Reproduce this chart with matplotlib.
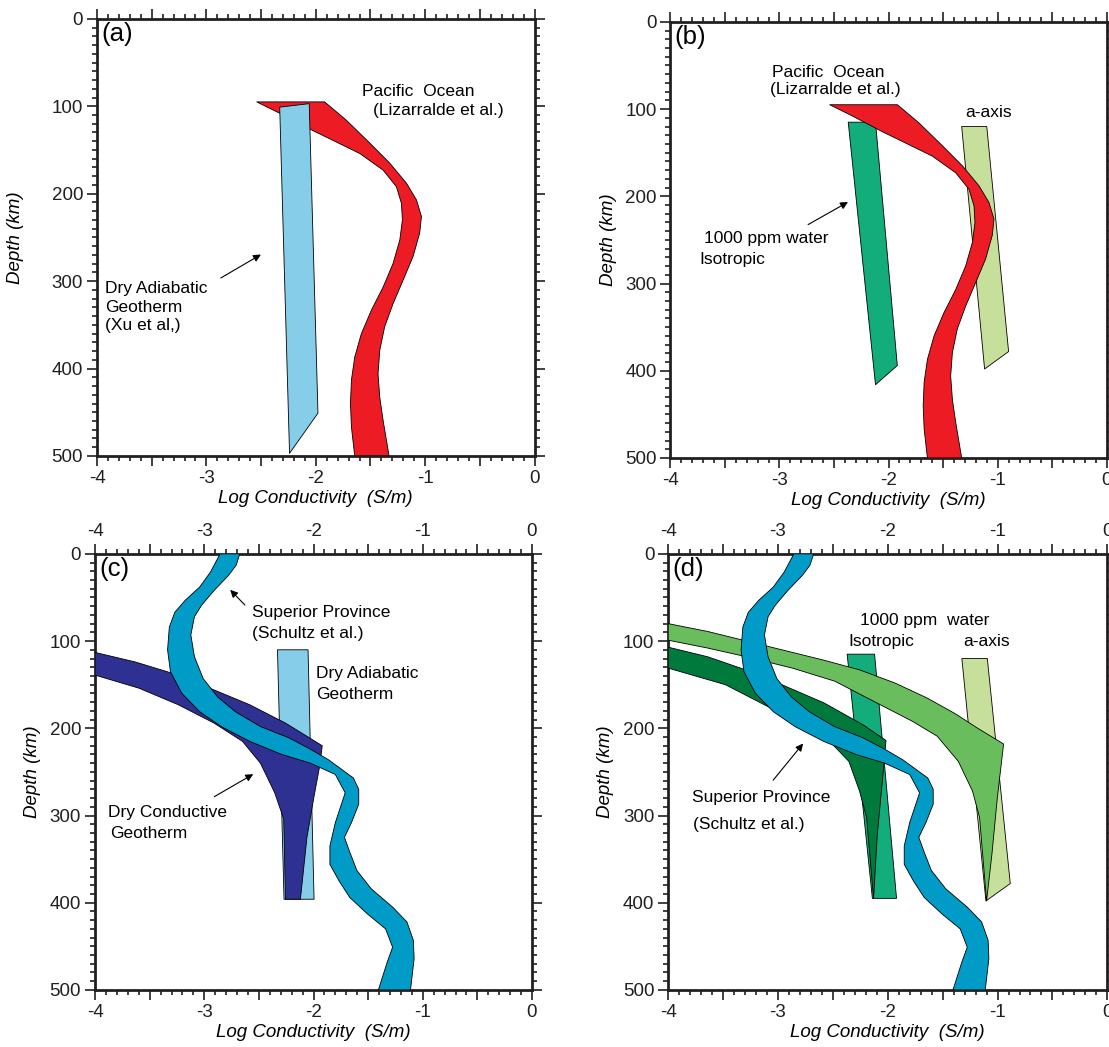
import matplotlib.pyplot as plt
import numpy as np
from matplotlib.ticker import MultipleLocator, FuncFormatter

plt.rcParams['font.family'] = ['Liberation Sans', 'DejaVu Sans']

# Pacific Ocean band (Lizarralde et al.) - edges, log conductivity vs depth
pac_left_x = [-2.54, -2.33, -2.056, -1.843, -1.598, -1.385, -1.263, -1.217, -1.208, -1.232, -1.294, -1.385,
              -1.491, -1.583, -1.644, -1.674, -1.683, -1.674, -1.644]
pac_left_y = [95, 108, 126, 139, 154, 173, 192, 211, 230, 253, 280, 307,
              333, 360, 387, 413, 440, 467, 500]
pac_right_x = [-1.919, -1.72, -1.507, -1.324, -1.171, -1.08, -1.034, -1.05, -1.111, -1.202, -1.294, -1.37,
               -1.415, -1.431, -1.415, -1.385, -1.33]
pac_right_y = [95, 116, 142, 165, 188, 207, 226, 245, 272, 299, 326, 352,
               379, 406, 433, 459, 500]

# Dry adiabatic geotherm (Xu et al.)
adia_a_x = [-2.33, -2.06, -1.98, -2.24]
adia_a_y = [101, 97, 451, 497]
adia_c_x = [-2.33, -2.05, -1.995, -2.27]
adia_c_y = [110, 110, 396, 396]

# 1000 ppm water, isotropic and a-axis
iso_b_x = [-2.37, -2.12, -1.92, -2.12]
iso_b_y = [115, 115, 394, 416]
iso_d_x = [-2.37, -2.12, -1.92, -2.14]
iso_d_y = [115, 115, 395, 395]
aax_b_x = [-1.33, -1.10, -0.90, -1.12]
aax_b_y = [120, 120, 378, 398]
aax_d_x = [-1.325, -1.093, -0.884, -1.106]
aax_d_y = [120, 120, 378, 398]

# Superior Province (Schultz et al.)
sup_left_x = [-2.855, -2.944, -3.042, -3.173, -3.27, -3.32, -3.336, -3.31, -3.205, -3.042, -2.845, -2.584, -2.29, -2.028,
              -1.80, -1.71, -1.80, -1.85, -1.85, -1.766, -1.668, -1.505, -1.34, -1.276, -1.325, -1.406]
sup_left_y = [0, 21, 38, 53, 67, 84, 110, 135, 160, 181, 198, 215, 230, 240,
              253, 274, 308, 335, 356, 375, 394, 413, 430, 451, 468, 500]
sup_right_x = [-2.675, -2.708, -2.78, -2.91, -3.025, -3.09, -3.123, -3.09, -3.01, -2.878, -2.715, -2.486, -2.224, -2.028,
               -1.864, -1.635, -1.586, -1.586, -1.652, -1.717, -1.668, -1.603, -1.472, -1.276, -1.145, -1.086, -1.079, -1.112]
sup_right_y = [0, 13, 25, 42, 59, 72, 93, 118, 143, 164, 181, 198, 211, 224,
               236, 257, 270, 287, 308, 325, 342, 363, 384, 405, 422, 443, 464, 500]

# Dry conductive geotherm (c)
cond_x = [-4, -3.63, -3.238, -2.911, -2.584, -2.257, -1.92, -1.946, -1.995, -2.06, -2.12,
          -2.257, -2.273, -2.355, -2.486, -2.65, -2.911, -3.238, -3.598, -4]
cond_y = [113, 124, 139, 156, 173, 194, 220, 245, 278, 325, 396,
          396, 304, 274, 240, 215, 194, 173, 154, 139]

# 1000 ppm water geotherm bands (d)
wet_iso_x = [-4, -3.64, -3.318, -2.965, -2.579, -2.225, -2.016, -2.048, -2.096, -2.129,
             -2.193, -2.257, -2.354, -2.514, -2.772, -3.093, -3.479, -4]
wet_iso_y = [107, 118, 132, 150, 171, 196, 214, 259, 323, 395,
             302, 272, 238, 217, 196, 175, 150, 131]
wet_aax_x = [-4, -3.64, -3.318, -2.965, -2.579, -2.257, -1.936, -1.646, -1.389, -1.18, -0.945, -1.003, -1.051, -1.10,
             -1.164, -1.228, -1.357, -1.55, -1.775, -2.129, -2.482, -2.868, -3.286, -3.64, -4]
wet_aax_y = [80, 89, 99, 110, 122, 133, 148, 165, 183, 200, 218, 281, 344, 398,
             302, 272, 238, 209, 192, 169, 146, 131, 118, 108, 99]

red = '#ed1c24'
lightblue = '#86cdea'
navy = '#2e3192'
cyan = '#009bc7'
teal = '#12ad7b'
palegreen = '#c6e09b'
midgreen = '#6abd5d'
darkgreen = '#00793d'

FS = 12.5


def band(lx, ly, rx, ry):
    return list(lx) + list(rx)[::-1], list(ly) + list(ry)[::-1]


def fill(ax, x, y, c, z):
    ax.fill(x, y, facecolor=c, edgecolor='black', linewidth=0.6, zorder=z, joinstyle='round')


def arrow(ax, head, tail):
    ax.annotate('', xy=head, xytext=tail,
                arrowprops=dict(arrowstyle='-|>', color='black', lw=0.8, mutation_scale=11))


def style(ax, letter, toplabels, ypad):
    ax.set_xlim(-4, 0)
    ax.set_ylim(500, 0)
    ax.xaxis.set_major_locator(MultipleLocator(0.5))
    ax.xaxis.set_minor_locator(MultipleLocator(0.1))
    ax.xaxis.set_major_formatter(FuncFormatter(lambda v, p: '%d' % round(v) if abs(v - round(v)) < 1e-6 else ''))
    ax.yaxis.set_major_locator(MultipleLocator(100))
    ax.yaxis.set_minor_locator(MultipleLocator(10))
    ax.tick_params(which='both', direction='out', top=True, right=True, width=1.2, labelsize=13.5, colors='#231f20')
    ax.tick_params(which='major', length=7, pad=3)
    ax.tick_params(which='minor', length=3.5)
    ax.tick_params(axis='x', labeltop=toplabels)
    for s in ax.spines.values():
        s.set_linewidth(2)
        s.set_color('#231f20')
    ax.set_ylabel('Depth (km)', fontsize=13.5, style='italic', labelpad=ypad)
    ax.set_xlabel('Log Conductivity  (S/m)', fontsize=13.5, style='italic', labelpad=2)
    ax.text(-3.96, 4, letter, fontsize=18.5, va='top', ha='left')


fig = plt.figure(figsize=(11.09, 10.47), dpi=100)
ax_a = fig.add_axes([0.0875, 0.5645, 0.3945, 0.4175])
ax_b = fig.add_axes([0.6045, 0.5626, 0.3935, 0.4165])
ax_c = fig.add_axes([0.0857, 0.0545, 0.394, 0.4165])
ax_d = fig.add_axes([0.6025, 0.0545, 0.396, 0.4165])

px, py = band(pac_left_x, pac_left_y, pac_right_x, pac_right_y)
sx, sy = band(sup_left_x, sup_left_y, sup_right_x, sup_right_y)

# (a)
fill(ax_a, px, py, red, 2)
fill(ax_a, adia_a_x, adia_a_y, lightblue, 3)
ax_a.text(-1.58, 83, 'Pacific  Ocean', fontsize=FS, va='center')
ax_a.text(-1.48, 105, '(Lizarralde et al.)', fontsize=FS, va='center')
ax_a.text(-3.925, 330, 'Dry Adiabatic\nGeotherm\n(Xu et al,)', fontsize=FS, va='center', linespacing=1.3)
arrow(ax_a, (-2.48, 268), (-2.89, 298))
style(ax_a, '(a)', False, 20)

# (b)
fill(ax_b, iso_b_x, iso_b_y, teal, 2)
fill(ax_b, aax_b_x, aax_b_y, palegreen, 2)
fill(ax_b, px, py, red, 3)
ax_b.text(-3.07, 58, 'Pacific  Ocean', fontsize=FS, va='center')
ax_b.text(-3.09, 78, '(Lizarralde et al.)', fontsize=FS, va='center')
ax_b.text(-1.30, 104, 'a-axis', fontsize=FS, va='center')
ax_b.text(-3.69, 248, '1000 ppm water', fontsize=FS, va='center')
ax_b.text(-3.73, 272, 'Isotropic', fontsize=FS, va='center')
arrow(ax_b, (-2.35, 205), (-2.76, 234))
style(ax_b, '(b)', False, 6)

# (c)
fill(ax_c, adia_c_x, adia_c_y, lightblue, 2)
fill(ax_c, cond_x, cond_y, navy, 3)
fill(ax_c, sx, sy, cyan, 4)
ax_c.text(-2.56, 67, 'Superior Province', fontsize=FS, va='center')
ax_c.text(-2.56, 91, '(Schultz et al.)', fontsize=FS, va='center')
ax_c.text(-1.98, 137, 'Dry Adiabatic', fontsize=FS, va='center')
ax_c.text(-1.98, 161, 'Geotherm', fontsize=FS, va='center')
ax_c.text(-3.88, 296, 'Dry Conductive', fontsize=FS, va='center')
ax_c.text(-3.86, 321, 'Geotherm', fontsize=FS, va='center')
arrow(ax_c, (-2.78, 39), (-2.61, 61))
arrow(ax_c, (-2.53, 251), (-2.93, 280))
style(ax_c, '(c)', True, 6)

# (d)
fill(ax_d, iso_d_x, iso_d_y, teal, 2)
fill(ax_d, aax_d_x, aax_d_y, palegreen, 2)
fill(ax_d, wet_iso_x, wet_iso_y, darkgreen, 3)
fill(ax_d, wet_aax_x, wet_aax_y, midgreen, 3)
fill(ax_d, sx, sy, cyan, 4)
ax_d.text(-2.25, 76, '1000 ppm  water', fontsize=FS, va='center')
ax_d.text(-2.36, 100, 'Isotropic', fontsize=FS, va='center')
ax_d.text(-1.315, 100, 'a-axis', fontsize=FS, va='center')
ax_d.text(-3.785, 279, 'Superior Province', fontsize=FS, va='center')
ax_d.text(-3.77, 310, '(Schultz et al.)', fontsize=FS, va='center')
arrow(ax_d, (-2.755, 215), (-3.06, 262))
style(ax_d, '(d)', True, 6)

fig.savefig('out.png', dpi=100)
